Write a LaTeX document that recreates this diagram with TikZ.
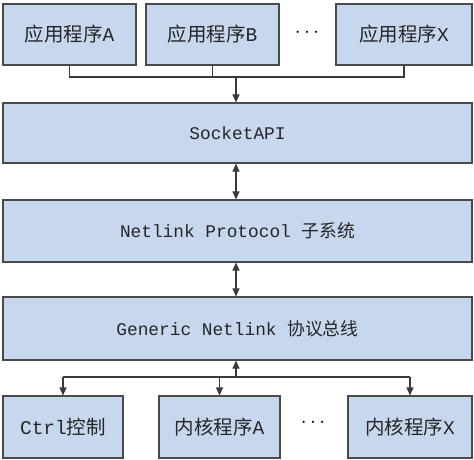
\documentclass[tikz,border=0pt]{standalone}
\usepackage{fontspec}
\newfontfamily\cjk{Noto Sans CJK SC}
\newfontfamily\mono{Liberation Mono}
\usetikzlibrary{arrows.meta}
\definecolor{boxfill}{HTML}{C6D7EE}
\definecolor{boxline}{HTML}{4A4A4A}
\tikzset{
  box/.style={draw=boxline, fill=boxfill, line width=1.1pt, rectangle, inner sep=0pt, align=center, text=black!85},
  conn/.style={draw=boxline!80!black, line width=1.1pt},
  tip/.style={-{Triangle[length=8pt,width=7pt]}},
  dtip/.style={{Triangle[length=8pt,width=7pt]}-{Triangle[length=8pt,width=7pt]}},
  big/.style={font=\fontsize{19.5}{22}\selectfont},
  mid/.style={font=\fontsize{17.8}{21}\selectfont}
}
\begin{document}
\begin{tikzpicture}[x=1pt,y=-1pt]
\useasboundingbox[fill=white] (0,0) rectangle (474,459);
% top row
\node[box, big, minimum width=133pt, minimum height=61pt] (A) at (69.5,34.5) {\cjk 应用程序\mono A};
\node[box, big, minimum width=133pt, minimum height=61pt] (B) at (212.5,34.5) {\cjk 应用程序\mono B};
\node[font=\fontsize{22}{24}\selectfont] (dots1) at (307,33) {$\cdots$};
\node[box, big, minimum width=136pt, minimum height=61pt] (X) at (404,34.5) {\cjk 应用程序\mono X};
% middle
\node[box, mid, minimum width=469pt, minimum height=60pt] (S) at (237.5,133) {\mono SocketAPI};
\node[box, mid, minimum width=469pt, minimum height=62pt] (N) at (237.5,231) {\mono Netlink Protocol {\cjk 子系统}};
\node[box, mid, minimum width=469pt, minimum height=63pt] (G) at (237.5,328.5) {\mono Generic Netlink {\cjk 协议总线}};
% bottom row
\node[box, big, minimum width=120pt, minimum height=62pt] (C) at (63,427) {\mono Ctrl{\cjk 控制}};
\node[box, big, minimum width=121pt, minimum height=62pt] (KA) at (219.5,427) {\cjk 内核程序\mono A};
\node[font=\fontsize{22}{24}\selectfont] (dots2) at (313,423) {$\cdots$};
\node[box, big, minimum width=124pt, minimum height=62pt] (KX) at (410,427) {\cjk 内核程序\mono X};
% top connectors
\coordinate (j) at (236,77);
\draw[conn] (A.south) |- (X.south |- j) -- (X.south);
\draw[conn] (B.south) |- (j);
\draw[conn, tip] (j) -- (j |- S.north);
% middle arrows
\draw[conn, dtip] (j |- S.south) -- (j |- N.north);
\draw[conn, dtip] (j |- N.south) -- (j |- G.north);
% bottom connectors
\coordinate (k) at (236,377);
\draw[conn, tip] (k) -- (k |- G.south);
\draw[conn] (C.north |- k) -- (KX.north |- k);
\draw[conn, tip] (C.north |- k) -- (C.north);
\draw[conn, tip] (KA.north |- k) -- (KA.north);
\draw[conn, tip] (KX.north |- k) -- (KX.north);
\end{tikzpicture}
\end{document}
